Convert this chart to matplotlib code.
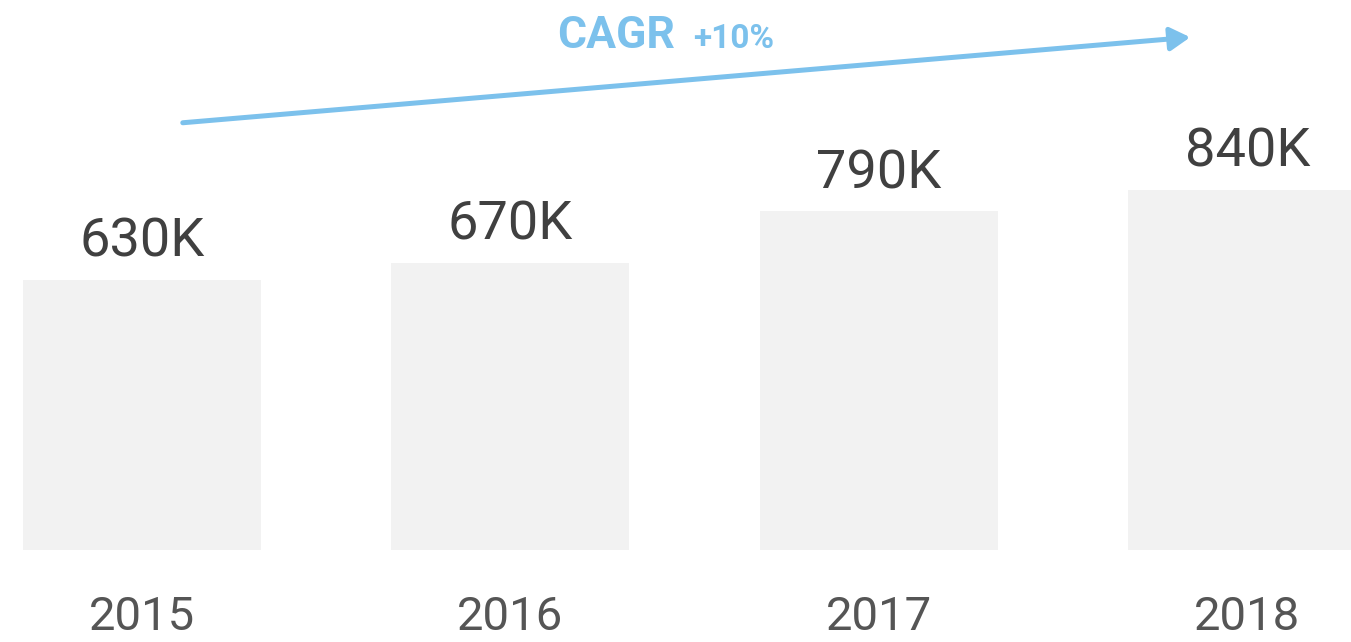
import matplotlib.pyplot as plt
import numpy as np
from matplotlib.patches import FancyArrowPatch

years = ['2015', '2016', '2017', '2018']
values = [630, 670, 790, 840]  # thousands
value_labels = ['630K', '670K', '790K', '840K']
cagr_title = 'CAGR'
cagr_value = '+10%'

bar_col = '#f2f2f2'
label_col = '#404040'
year_col = '#555555'
accent = '#7cc1ec'

plt.rcParams['font.family'] = 'Roboto'

fig = plt.figure(figsize=(13.51, 6.42), dpi=100)
ax = fig.add_axes([0, 0, 1, 1])
ax.set_axis_off()

x = np.arange(len(years))
ax.bar(x, values, width=0.646, color=bar_col)
ax.set_xlim(-0.385, 3.281)
ax.set_ylim(-215, 1283)

for xi, v, lab in zip(x, values, value_labels):
    ax.annotate(lab, xy=(xi, v), xytext=(0, 16.5), textcoords='offset points',
                ha='center', va='baseline', fontsize=39, color=label_col)

for xi, yr in zip(x, years):
    ax.annotate(yr, xy=(xi, 0), xytext=(0, -58), textcoords='offset points',
                ha='center', va='baseline', fontsize=34, color=year_col)

# growth arrow across the top
arrow = FancyArrowPatch((180 / 1351, 1 - 123 / 642), (1193 / 1351, 1 - 37 / 642),
                        transform=ax.transAxes, arrowstyle='-|>,head_length=0.6,head_width=0.35',
                        mutation_scale=20, color=accent, lw=3.6)
ax.add_patch(arrow)

fig.text(557 / 1351, 1 - 48 / 642, cagr_title, ha='left', va='baseline',
         fontsize=32, fontweight='bold', color=accent)
fig.text(693 / 1351, 1 - 48 / 642, cagr_value, ha='left', va='baseline',
         fontsize=24, fontweight='bold', color=accent)

plt.savefig('out.png', dpi=100)
